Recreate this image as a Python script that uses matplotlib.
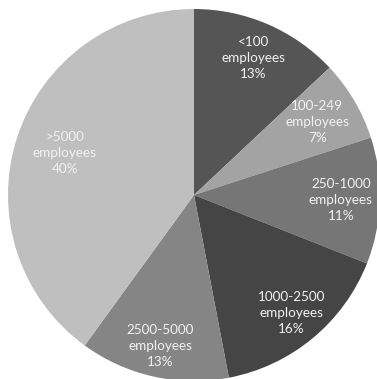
import numpy as np
import matplotlib
matplotlib.use("Agg")
import matplotlib.pyplot as plt

categories = ["<100", "100-249", "250-1000", "1000-2500", "2500-5000", ">5000"]
shares = [13, 7, 11, 16, 13, 40]
colors = ["#555555", "#a3a3a3", "#767676", "#454545", "#858585", "#bfbfbf"]
label_dist = [0.80, 0.77, 0.79, 0.82, 0.83, 0.73]

W, H = 377, 379
fig = plt.figure(figsize=(W / 100, H / 100), dpi=100)
ax = fig.add_axes([0, 0, 1, 1])

cx, cy, r = 194, H - 195, 186
wedges, _ = ax.pie(shares, colors=colors, startangle=90, counterclock=False,
                   center=(cx, cy), radius=r, frame=True,
                   wedgeprops=dict(linewidth=0))
ax.set_xlim(0, W)
ax.set_ylim(0, H)
ax.set_aspect("equal")
ax.axis("off")

for w, cat, s, d in zip(wedges, categories, shares, label_dist):
    ang = np.deg2rad((w.theta1 + w.theta2) / 2)
    x = cx + d * r * np.cos(ang)
    y = cy + d * r * np.sin(ang)
    ax.text(x, y, f"{cat}\nemployees\n{s}%", ha="center", va="center",
            color="#f2f2f2", fontsize=9.7, family="Lato", linespacing=1.4)

fig.savefig("out.png", dpi=100)
